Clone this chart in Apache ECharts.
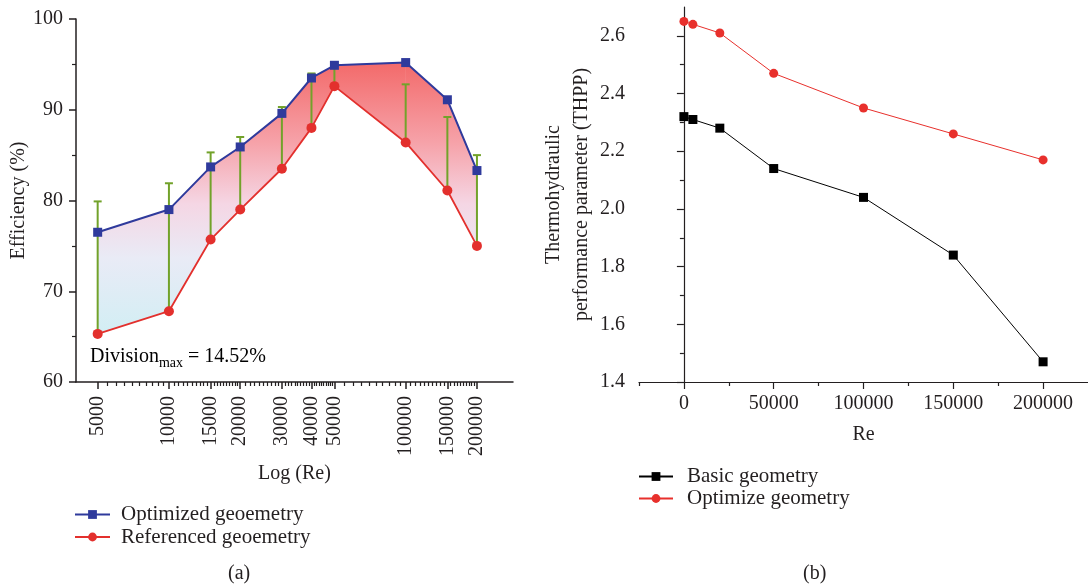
<!DOCTYPE html>
<html>
<head>
<meta charset="utf-8">
<script src="https://cdn.jsdelivr.net/npm/echarts@6/dist/echarts.min.js"></script>
<style>
html, body { margin: 0; padding: 0; background: #fff; }
#main { width: 1088px; height: 586px; }
</style>
</head>
<body>
<div id="main"></div>
<script>
// (a) efficiency against Re (log axis)
const reA = [5000, 10000, 15000, 20000, 30000, 40000, 50000, 100000, 150000, 200000];
const optimized = [76.5, 79.0, 83.7, 85.9, 89.6, 93.5, 94.9, 95.2, 91.1, 83.3];
const referenced = [65.3, 67.8, 75.7, 79.0, 83.5, 88.0, 92.6, 86.4, 81.1, 75.0];
const barTop = [79.9, 81.9, 85.3, 87.0, 90.3, 94.0, 95.0, 92.8, 89.2, 85.0];
const ticksA = [5000, 10000, 15000, 20000, 30000, 40000, 50000, 100000, 150000, 200000];

// (b) THPP against Re
const reB = [0, 5000, 20000, 50000, 100000, 150000, 200000];
const basic = [2.32, 2.31, 2.28, 2.14, 2.04, 1.84, 1.47];
const optimize = [2.65, 2.64, 2.61, 2.47, 2.35, 2.26, 2.17];
const ticksB = [0, 50000, 100000, 150000, 200000];
const minorB = [-25000, 25000, 75000, 125000, 175000];
const ticksBY = [1.4, 1.6, 1.8, 2.0, 2.2, 2.4, 2.6];
const minorBY = [1.5, 1.7, 1.9, 2.1, 2.3, 2.5];

// 9 minor ticks between labelled ticks, like the origin log axis
const minorA = [];
for (let i = 0; i < ticksA.length - 1; i++) {
    const step = (ticksA[i + 1] - ticksA[i]) / 10;
    for (let k = 1; k < 10; k++) minorA.push(ticksA[i] + k * step);
}

const FONT = 'Liberation Serif';
const INK = '#231f20';
const GREEN = '#72a22a';
const BLUE = '#2f3a9c';
const RED = '#e3302d';

const chart = echarts.init(document.getElementById('main'));

function txt(size) {
    return { fontFamily: FONT, fontSize: size, color: INK };
}

const bandHi = Math.max(...optimized);
const bandLo = Math.min(...referenced);

const option = {
    animation: false,
    backgroundColor: '#fff',
    textStyle: { fontFamily: FONT },
    grid: [
        { left: 76, top: 19, width: 437, height: 363 },
        { left: 639, top: 7, width: 453, height: 375 }
    ],
    xAxis: [
        {
            gridIndex: 0, type: 'log', min: 4050, max: 284000, position: 'bottom',
            name: 'Log (Re)', nameLocation: 'middle', nameGap: 77,
            nameTextStyle: txt(20),
            axisLine: { lineStyle: { color: INK, width: 1.5 } },
            axisTick: { customValues: ticksA, length: 7, lineStyle: { color: INK, width: 1.5 } },
            axisLabel: { customValues: ticksA, rotate: 90, margin: 14, ...txt(20), formatter: v => String(v) },
            splitLine: { show: false }, minorTick: { show: false }
        },
        {
            gridIndex: 0, type: 'log', min: 4050, max: 284000, position: 'bottom',
            axisLine: { show: false },
            axisTick: { customValues: minorA, length: 4, lineStyle: { color: INK, width: 1.2 } },
            axisLabel: { show: false },
            splitLine: { show: false }
        },
        {
            gridIndex: 1, type: 'value', min: -25000, max: 225000, position: 'bottom',
            name: 'Re', nameLocation: 'middle', nameGap: 43,
            nameTextStyle: txt(20),
            axisLine: { lineStyle: { color: INK, width: 1.2 } },
            axisTick: { customValues: ticksB, length: 7, lineStyle: { color: INK, width: 1.2 } },
            axisLabel: { customValues: ticksB, margin: 12, ...txt(20), formatter: v => String(v) },
            splitLine: { show: false }
        },
        {
            gridIndex: 1, type: 'value', min: -25000, max: 225000, position: 'bottom',
            axisLine: { show: false },
            axisTick: { customValues: minorB, length: 4, lineStyle: { color: INK, width: 1.2 } },
            axisLabel: { show: false },
            splitLine: { show: false }
        }
    ],
    yAxis: [
        {
            gridIndex: 0, type: 'value', min: 60, max: 100, interval: 10, position: 'left',
            name: 'Efficiency (%)', nameLocation: 'middle', nameGap: 40,
            nameTextStyle: txt(20),
            axisLine: { show: true, lineStyle: { color: INK, width: 1.5 } },
            axisTick: { show: true, length: 7, lineStyle: { color: INK, width: 1.5 } },
            minorTick: { show: true, splitNumber: 2, length: 4, lineStyle: { color: INK, width: 1.2 } },
            axisLabel: { margin: 13, ...txt(20) },
            splitLine: { show: false }
        },
        {
            gridIndex: 1, type: 'value', min: 1.4, max: 2.7, position: 'left',
            name: 'Thermohydraulic\nperformance parameter (THPP)',
            nameLocation: 'middle', nameGap: 37,
            nameTextStyle: { ...txt(20), lineHeight: 28 },
            axisLine: { show: true, lineStyle: { color: INK, width: 1.2 } },
            axisTick: { show: true, customValues: ticksBY, length: 7, lineStyle: { color: INK, width: 1.2 } },
            axisLabel: { customValues: ticksBY, margin: 14, ...txt(20), formatter: v => v.toFixed(1) },
            splitLine: { show: false }
        },
        {
            gridIndex: 1, type: 'value', min: 1.4, max: 2.7, position: 'left',
            axisLine: { show: false },
            axisTick: { show: true, customValues: minorBY, length: 4, lineStyle: { color: INK, width: 1.2 } },
            axisLabel: { show: false },
            splitLine: { show: false }
        }
    ],
    legend: [
        {
            data: ['Optimized geoemetry', 'Referenced geoemetry'],
            orient: 'vertical', left: 69, top: 499,
            itemWidth: 35, itemHeight: 11, itemGap: 1.5,
            textStyle: { ...txt(21), padding: [0, 0, 0, 6] }
        },
        {
            data: ['Basic geometry', 'Optimize geometry'],
            orient: 'vertical', left: 633, top: 461,
            itemWidth: 34, itemHeight: 11, itemGap: 1,
            textStyle: { ...txt(21), padding: [0, 0, 0, 9] }
        }
    ],
    graphic: [
        {
            type: 'text', left: 90, top: 343, z: 10,
            style: {
                text: '{a|Division}{b|max}{a| = 14.52%}',
                rich: {
                    a: { fontFamily: FONT, fontSize: 20, color: INK, lineHeight: 24 },
                    b: { fontFamily: FONT, fontSize: 14, color: INK, lineHeight: 14, height: 14, padding: [13, 0, 0, 0] }
                }
            }
        },
        { type: 'text', left: 228, top: 564, style: { text: '(a)', fill: INK, font: '20px "Liberation Serif"' } },
        { type: 'text', left: 803, top: 564, style: { text: '(b)', fill: INK, font: '20px "Liberation Serif"' } }
    ],
    series: [
        // shaded band between the two curves, one quad per segment
        {
            name: 'band', type: 'custom', xAxisIndex: 0, yAxisIndex: 0, z: 1, silent: true,
            data: reA.slice(0, -1).map((r, i) => [r, reA[i + 1], referenced[i], referenced[i + 1], optimized[i], optimized[i + 1]]),
            encode: { x: [0, 1], y: [2, 3, 4, 5] },
            renderItem: function (params, api) {
                const p1 = api.coord([api.value(0), api.value(4)]);
                const p2 = api.coord([api.value(1), api.value(5)]);
                const p3 = api.coord([api.value(1), api.value(3)]);
                const p4 = api.coord([api.value(0), api.value(2)]);
                const yTop = api.coord([reA[0], bandHi])[1];
                const yBot = api.coord([reA[0], bandLo])[1];
                const fill = new echarts.graphic.LinearGradient(0, yTop, 0, yBot, [
                    { offset: 0, color: '#f36a6a' },
                    { offset: 0.3, color: '#f6a3aa' },
                    { offset: 0.52, color: '#f5d6e4' },
                    { offset: 0.72, color: '#e9ebf6' },
                    { offset: 1, color: '#d2eef4' }
                ], true);
                return {
                    type: 'polygon',
                    shape: { points: [p1, p2, p3, p4] },
                    style: { fill: fill, stroke: fill, lineWidth: 0.6 }
                };
            }
        },
        {
            name: 'division', type: 'custom', xAxisIndex: 0, yAxisIndex: 0, z: 2, silent: true,
            data: reA.map((r, i) => [r, referenced[i], barTop[i]]),
            encode: { x: 0, y: [1, 2] },
            renderItem: function (params, api) {
                const lo = api.coord([api.value(0), api.value(1)]);
                const hi = api.coord([api.value(0), api.value(2)]);
                return {
                    type: 'group',
                    children: [
                        { type: 'line', shape: { x1: lo[0], y1: lo[1], x2: hi[0], y2: hi[1] }, style: { stroke: GREEN, lineWidth: 2 } },
                        { type: 'line', shape: { x1: hi[0] - 4, y1: hi[1], x2: hi[0] + 4, y2: hi[1] }, style: { stroke: GREEN, lineWidth: 2 } }
                    ]
                };
            }
        },
        {
            name: 'Optimized geoemetry', type: 'line', xAxisIndex: 0, yAxisIndex: 0, z: 3,
            data: reA.map((r, i) => [r, optimized[i]]),
            symbol: 'rect', symbolSize: 9,
            lineStyle: { color: BLUE, width: 2 }, itemStyle: { color: BLUE }
        },
        {
            name: 'Referenced geoemetry', type: 'line', xAxisIndex: 0, yAxisIndex: 0, z: 3,
            data: reA.map((r, i) => [r, referenced[i]]),
            symbol: 'circle', symbolSize: 10,
            lineStyle: { color: RED, width: 1.8 }, itemStyle: { color: RED }
        },
        {
            name: 'Basic geometry', type: 'line', xAxisIndex: 2, yAxisIndex: 1, z: 3,
            data: reB.map((r, i) => [r, basic[i]]),
            symbol: 'rect', symbolSize: 9,
            lineStyle: { color: '#000', width: 1 }, itemStyle: { color: '#000' }
        },
        {
            name: 'Optimize geometry', type: 'line', xAxisIndex: 2, yAxisIndex: 1, z: 3,
            data: reB.map((r, i) => [r, optimize[i]]),
            symbol: 'circle', symbolSize: 9,
            lineStyle: { color: '#e8302c', width: 1 }, itemStyle: { color: '#e8302c' }
        }
    ]
};

chart.setOption(option);
</script>
</body>
</html>
